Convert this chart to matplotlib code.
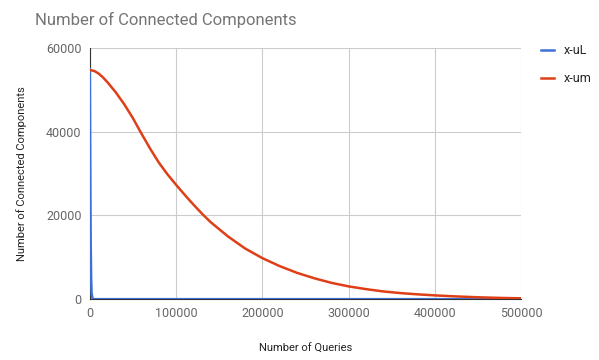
import numpy as np
import matplotlib.pyplot as plt

# queries vs. number of connected components
x_um = [0, 5000, 10000, 15000, 20000, 30000, 40000, 50000, 58000, 70000, 80000, 90000,
        100000, 110000, 120000, 131000, 140000, 160000, 180000, 200000, 220000, 240000,
        260000, 280000, 300000, 320000, 340000, 360000, 380000, 400000, 425000, 450000,
        475000, 500000]
y_um = [54700, 54500, 53900, 53000, 51900, 49400, 46500, 43200, 40200, 35900, 32600, 29800,
        27300, 24900, 22600, 20200, 18400, 15000, 12100, 9800, 7900, 6300,
        5000, 3900, 3050, 2400, 1850, 1450, 1150, 900, 650, 450,
        300, 200]

x_ul = [0, 300, 600, 1000, 1500, 2000, 3000, 5000, 500000]
y_ul = [55000, 40000, 26000, 13000, 5000, 1500, 200, 0, 0]

plt.rcParams['font.family'] = ['Roboto', 'DejaVu Sans']

fig = plt.figure(figsize=(5.99, 3.6), dpi=100)
ax = fig.add_axes([0.150, 0.169, 0.720, 0.698])

ax.plot(x_ul, y_ul, color='#3d71d9', lw=1.8, label='x-uL', zorder=3)
ax.plot(x_um, y_um, color='#de3f17', lw=1.8, label='x-um', zorder=3)

ax.set_xlim(0, 500000)
ax.set_ylim(0, 60000)
ax.set_xticks(np.arange(0, 500001, 100000))
ax.set_yticks(np.arange(0, 60001, 20000))
ax.grid(True, color='#cccccc', lw=0.8)
ax.set_axisbelow(True)
for s in ['top', 'right']:
    ax.spines[s].set_visible(False)
ax.spines['left'].set_color('#333333')
ax.spines['bottom'].set_color('#333333')
ax.tick_params(length=0, labelsize=9, colors='#666666', pad=6)

ax.set_xlabel('Number of Queries', fontsize=8, color='#222222', labelpad=17)
ax.set_ylabel('Number of Connected Components', fontsize=8, color='#222222', labelpad=14)
fig.text(0.058, 0.945, 'Number of Connected Components', fontsize=12, color='#757575', va='center')

ax.legend(loc='upper left', bbox_to_anchor=(1.02, 1.06), frameon=False, fontsize=9,
          handlelength=1.0, labelspacing=1.2, labelcolor='#222222')

fig.savefig('out.png', dpi=100)
